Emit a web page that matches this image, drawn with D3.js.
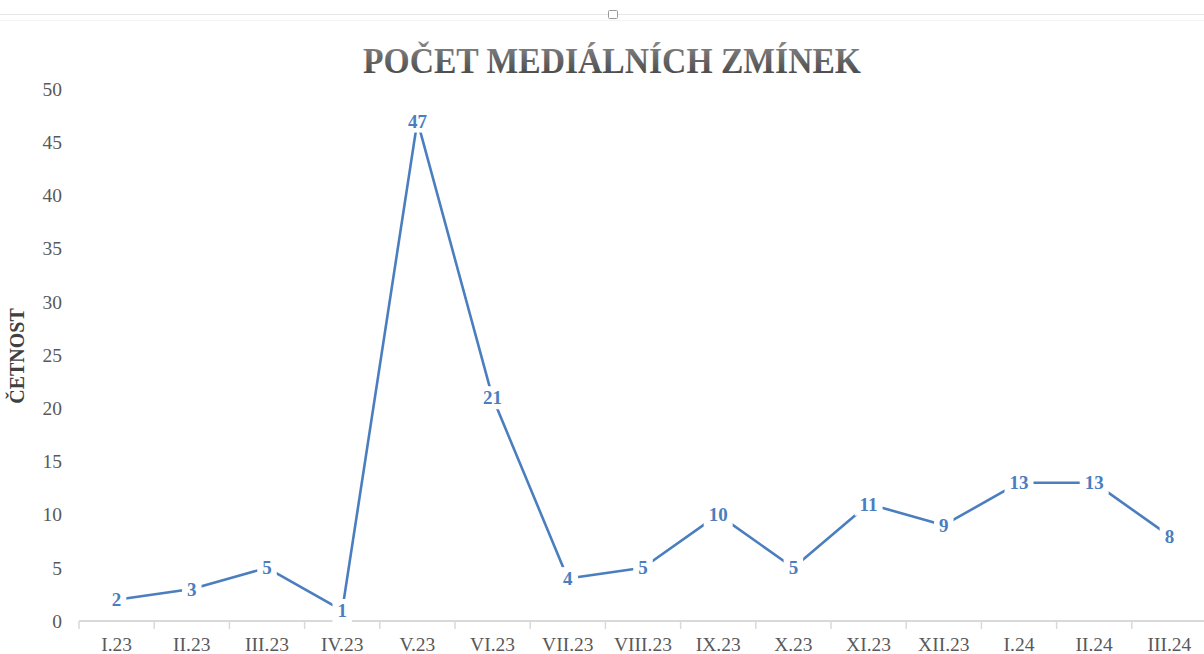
<!DOCTYPE html>
<html>
<head>
<meta charset="utf-8">
<script src="https://cdn.jsdelivr.net/npm/d3@7"></script>
<style>
  html, body { margin: 0; padding: 0; background: #ffffff; }
  svg { display: block; }
</style>
</head>
<body>
<svg id="chart" width="1204" height="654"></svg>
<script>
const categories = ["I.23","II.23","III.23","IV.23","V.23","VI.23","VII.23","VIII.23","IX.23","X.23","XI.23","XII.23","I.24","II.24","III.24"];
const values = [2,3,5,1,47,21,4,5,10,5,11,9,13,13,8];
const yTicks = [0,5,10,15,20,25,30,35,40,45,50];
const titleText = "POČET MEDIÁLNÍCH ZMÍNEK";
const yAxisTitle = "ČETNOST";

const svg = d3.select("#chart");
const W = 1204, H = 654;
const serif = "'Liberation Serif','Times New Roman',serif";

// faint top frame line and handle
svg.append("line").attr("x1",0).attr("x2",W).attr("y1",14.5).attr("y2",14.5)
  .attr("stroke","#e6e6e6").attr("stroke-width",1);
svg.append("line").attr("x1",0).attr("x2",W).attr("y1",20.5).attr("y2",20.5)
  .attr("stroke","#f3f3f3").attr("stroke-width",1);
svg.append("rect").attr("x",608.5).attr("y",10.5).attr("width",9).attr("height",8)
  .attr("fill","#ffffff").attr("stroke","#9a9a9a").attr("stroke-width",1).attr("rx",1);

// gradient for title
const defs = svg.append("defs");
const grad = defs.append("linearGradient").attr("id","tg").attr("x1","0").attr("y1","0").attr("x2","0").attr("y2","1");
grad.append("stop").attr("offset","0%").attr("stop-color","#8a8a8a");
grad.append("stop").attr("offset","100%").attr("stop-color","#3e3e3e");

svg.append("text")
  .attr("x", 612).attr("y", 73)
  .attr("text-anchor","middle")
  .attr("font-family", serif)
  .attr("font-weight","bold")
  .attr("font-size", 36)
  .attr("textLength", 498).attr("lengthAdjust","spacingAndGlyphs")
  .attr("fill","url(#tg)")
  .text(titleText);

const x = d3.scaleBand().domain(categories).range([79, 1207]).padding(0);
const y = d3.scaleLinear().domain([0,50]).range([621, 89]);

// x axis
const gx = svg.append("g").attr("transform","translate(0,621)");
gx.append("line").attr("x1",79).attr("x2",W).attr("y1",0).attr("y2",0)
  .attr("stroke","#d9d9d9").attr("stroke-width",2);
gx.selectAll("line.tk").data(categories).enter().append("line").attr("class","tk")
  .attr("x1", d => x(d)).attr("x2", d => x(d)).attr("y1",0).attr("y2",8)
  .attr("stroke","#d9d9d9").attr("stroke-width",1.5);
gx.selectAll("text.xl").data(categories).enter().append("text").attr("class","xl")
  .attr("x", d => x(d) + x.bandwidth()/2).attr("y", 30)
  .attr("text-anchor","middle")
  .attr("font-family", serif).attr("font-size", 19.5).attr("fill","#595959")
  .text(d => d);

// y axis labels
const gy = svg.append("g");
gy.selectAll("text").data(yTicks).enter().append("text")
  .attr("x", 62).attr("y", d => y(d))
  .attr("dy","0.35em")
  .attr("text-anchor","end")
  .attr("font-family", serif).attr("font-size", 19.5).attr("fill","#595959")
  .text(d => d);

// y axis title
svg.append("text")
  .attr("transform","translate(24,356) rotate(-90)")
  .attr("text-anchor","middle")
  .attr("font-family", serif).attr("font-weight","bold").attr("font-size", 20)
  .attr("fill","#404040")
  .text(yAxisTitle);

// line
const cx = (d,i) => x(categories[i]) + x.bandwidth()/2;
const line = d3.line().x((d,i) => cx(d,i)).y(d => y(d));
svg.append("path").datum(values)
  .attr("d", line)
  .attr("fill","none").attr("stroke","#4a7ebf").attr("stroke-width",2.6)
  .attr("stroke-linejoin","round");

// data labels with white background
const lg = svg.append("g");
values.forEach((v,i) => {
  const g = lg.append("g");
  const t = g.append("text")
    .attr("x", cx(v,i)).attr("y", y(v))
    .attr("dy","0.35em")
    .attr("text-anchor","middle")
    .attr("font-family", serif).attr("font-weight","bold").attr("font-size", 19)
    .attr("fill","#4a7ebf")
    .text(v);
  const bb = t.node().getBBox();
  g.insert("rect","text")
    .attr("x", bb.x - 5).attr("y", bb.y - 1)
    .attr("width", bb.width + 10).attr("height", bb.height + 2)
    .attr("fill","#ffffff");
});
</script>
</body>
</html>
